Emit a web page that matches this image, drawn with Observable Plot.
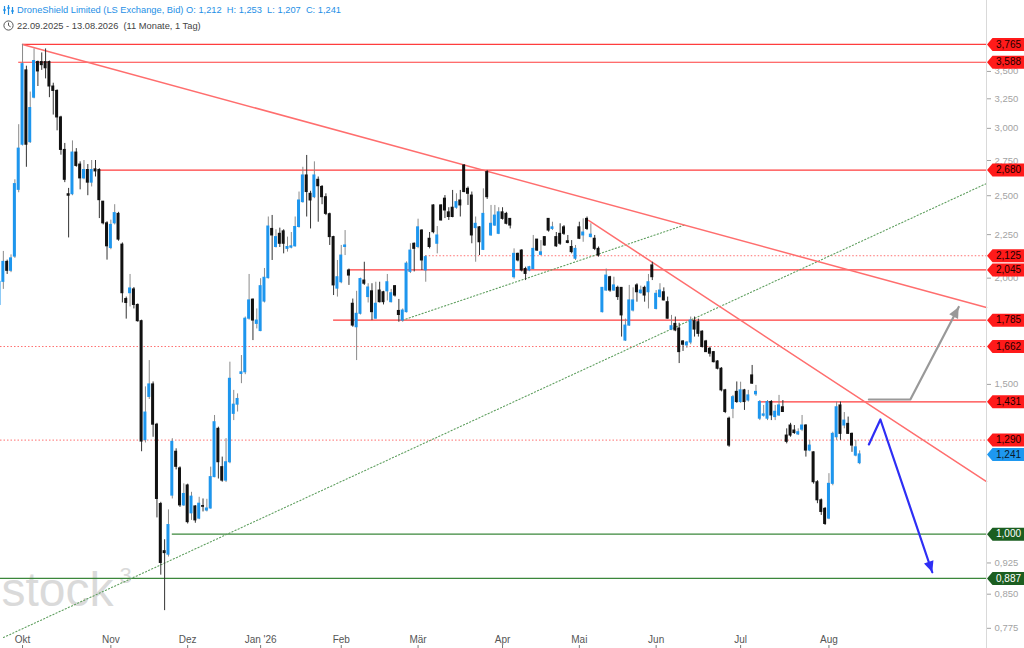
<!DOCTYPE html>
<html lang="de">
<head>
<meta charset="utf-8">
<title>DroneShield Limited (LS Exchange, Bid)</title>
<script src="https://cdn.jsdelivr.net/npm/d3@7"></script>
<script src="https://cdn.jsdelivr.net/npm/@observablehq/plot@0.6"></script>
<style>
html,body{margin:0;padding:0;background:#fff;}
#wrap{position:relative;width:1024px;height:648px;overflow:hidden;font-family:Arial,"Liberation Sans",Helvetica,sans-serif;}
#chart svg{display:block;}
.hl{position:absolute;left:17px;font-size:9.3px;white-space:pre;line-height:11px;}
#l1{top:5px;color:#1e8fe6;}
#l2{top:21px;color:#444;}
.ic{position:absolute;left:3px;}
</style>
</head>
<body>
<div id="wrap">
  <div id="chart"></div>
  <svg class="ic" style="top:5px" width="11" height="10" viewBox="0 0 11 10">
    <g stroke="#1e8fe6" stroke-width="1.2" fill="none">
      <line x1="1.5" y1="1" x2="1.5" y2="9"/><line x1="0" y1="5" x2="3" y2="5"/>
      <line x1="5.5" y1="0" x2="5.5" y2="10"/><line x1="4" y1="3" x2="7" y2="3"/>
      <line x1="9.5" y1="2" x2="9.5" y2="9"/><line x1="8" y1="6" x2="11" y2="6"/>
    </g>
  </svg>
  <div id="l1" class="hl"></div>
  <svg class="ic" style="top:20px" width="11" height="11" viewBox="0 0 11 11">
    <circle cx="5.5" cy="5.5" r="4.6" stroke="#555" stroke-width="1" fill="none"/>
    <path d="M5.5 2.6V5.5L7.6 6.8" stroke="#555" stroke-width="1" fill="none"/>
  </svg>
  <div id="l2" class="hl"></div>
</div>
<script>
// ---------- data ----------
const title = "DroneShield Limited (LS Exchange, Bid)";
const periodText = "22.09.2025 - 13.08.2026  (11 Monate, 1 Tag)";
const startDate = "2025-09-23";
const holidays = ["2025-12-24","2025-12-25","2025-12-26","2025-12-31","2026-01-01","2026-04-03","2026-04-06","2026-05-01"];
const monthNames = ["Jan","Feb","Mär","Apr","Mai","Jun","Jul","Aug","Sep","Okt","Nov","Dez"];

const opens = [
1.86,1.98,2.09,2.04,2.12,2.54,2.87,3.51,2.89,3.26,
3.59,3.59,3.59,3.59,3.36,3.32,3.09,2.83,2.51,2.51,
2.81,2.72,2.62,2.68,2.59,2.685,2.68,2.46,2.32,2.17,
2.32,2.38,2.19,1.89,1.92,1.94,1.86,1.78,1.29,1.45,
1.50,1.345,1.085,0.955,0.946,1.11,1.25,1.195,1.081,1.141,
1.058,1.078,1.043,1.079,1.066,1.072,1.167,1.33,1.199,1.156,
1.215,1.385,1.42,1.543,1.55,1.792,1.887,1.767,1.733,1.877,
2.0,2.285,2.176,2.255,2.27,2.165,2.172,2.18,2.297,2.457,
2.641,2.513,2.49,2.61,2.56,2.49,2.378,2.235,1.944,1.978,
2.176,2.042,1.866,1.751,1.816,1.987,1.90,1.93,1.792,1.934,
1.925,1.93,1.874,1.957,1.83,1.783,1.824,2.034,2.195,2.176,
2.275,2.042,2.225,2.435,2.195,2.435,2.48,2.39,2.42,2.42,
2.468,2.713,2.547,2.501,2.29,2.295,2.159,2.665,2.245,2.306,
2.255,2.39,2.38,2.348,2.005,2.136,2.155,2.05,2.042,2.05,
2.22,2.13,2.235,2.348,2.285,2.235,2.255,2.295,2.21,2.176,
2.108,2.295,2.245,2.348,2.235,2.225,2.165,1.824,1.934,2.005,
1.934,1.948,1.948,1.689,1.759,1.832,1.961,1.92,1.948,1.925,
2.07,1.84,1.90,1.925,1.874,1.74,1.767,1.745,1.685,1.667,
1.68,1.78,1.775,1.73,1.685,1.652,1.637,1.596,1.565,1.476,
1.367,1.404,1.47,1.43,1.476,1.436,1.537,1.46,1.367,1.378,
1.367,1.43,1.373,1.379,1.41,1.306,1.342,1.324,1.31,1.327,
1.342,1.254,1.248,1.151,1.096,1.071,1.043,1.146,1.30,1.417,
1.342,1.348,1.312,1.237,1.212];

const highs = [
2.00,2.15,2.10,2.13,2.61,3.03,3.765,3.55,3.31,3.72,
3.60,3.68,3.72,3.60,3.39,3.33,3.10,2.88,2.55,2.90,
2.84,2.74,2.75,2.72,2.75,2.75,2.69,2.46,2.33,2.34,
2.44,2.39,2.20,1.90,2.02,1.95,1.865,1.785,1.49,1.60,
1.51,1.35,1.09,0.985,1.068,1.295,1.26,1.20,1.146,1.145,
1.12,1.08,1.105,1.10,1.099,1.199,1.379,1.336,1.232,1.295,
1.593,1.476,1.462,1.622,1.80,2.02,1.89,1.84,1.997,2.053,
2.36,2.37,2.28,2.29,2.28,2.235,2.263,2.36,2.525,2.70,
2.788,2.53,2.74,2.63,2.57,2.513,2.385,2.24,2.098,2.185,
2.275,2.05,1.89,1.93,2.00,2.088,1.97,1.97,1.978,1.978,
1.93,2.02,1.94,1.96,1.888,1.84,2.09,2.195,2.20,2.346,
2.28,2.126,2.263,2.44,2.30,2.44,2.501,2.42,2.536,2.513,
2.536,2.72,2.56,2.525,2.36,2.30,2.547,2.677,2.435,2.435,
2.42,2.42,2.39,2.35,2.165,2.14,2.16,2.06,2.065,2.245,
2.22,2.214,2.235,2.35,2.327,2.263,2.317,2.306,2.245,2.214,
2.185,2.327,2.348,2.36,2.317,2.245,2.176,1.95,2.05,2.01,
2.005,1.957,1.95,1.79,1.961,1.948,1.97,1.957,1.957,2.02,
2.088,1.934,1.97,1.948,1.90,1.808,1.80,1.77,1.689,1.685,
1.80,1.80,1.79,1.735,1.69,1.66,1.64,1.60,1.57,1.48,
1.373,1.456,1.51,1.509,1.48,1.476,1.579,1.496,1.436,1.417,
1.436,1.436,1.417,1.456,1.436,1.33,1.35,1.342,1.33,1.379,
1.345,1.289,1.25,1.156,1.10,1.075,1.178,1.318,1.43,1.43,
1.39,1.373,1.315,1.289,1.253];

const lows = [
1.85,1.94,2.02,2.03,2.11,2.52,2.86,2.70,2.88,3.25,
3.36,3.51,3.43,3.26,3.11,2.98,2.79,2.59,2.23,2.50,
2.70,2.54,2.61,2.50,2.56,2.63,2.35,2.31,2.10,2.16,
2.31,2.21,1.87,1.79,1.85,1.84,1.775,1.25,1.28,1.44,
1.30,1.045,0.895,0.813,0.94,1.10,1.19,1.075,1.078,1.028,
1.038,1.03,1.04,1.062,1.062,1.07,1.165,1.161,1.151,1.15,
1.21,1.36,1.392,1.503,1.54,1.785,1.689,1.743,1.73,1.87,
1.995,2.098,2.17,2.173,2.136,2.146,2.165,2.175,2.29,2.45,
2.36,2.285,2.48,2.327,2.44,2.369,2.185,1.908,1.90,1.97,
2.126,1.961,1.751,1.60,1.81,1.961,1.87,1.783,1.79,1.87,
1.86,1.88,1.87,1.90,1.775,1.775,1.82,2.025,2.034,2.166,
2.042,1.978,2.165,2.255,2.136,2.335,2.35,2.338,2.355,2.41,
2.36,2.52,2.435,2.195,2.088,2.126,2.155,2.475,2.24,2.30,
2.25,2.34,2.31,2.285,1.995,2.09,2.034,1.987,2.035,2.045,
2.15,2.125,2.18,2.265,2.275,2.173,2.185,2.245,2.195,2.136,
2.098,2.22,2.204,2.275,2.23,2.155,2.117,1.82,1.93,1.925,
1.93,1.883,1.705,1.685,1.755,1.825,1.874,1.915,1.874,1.84,
1.987,1.835,1.895,1.88,1.79,1.735,1.73,1.587,1.64,1.654,
1.67,1.705,1.705,1.655,1.635,1.615,1.59,1.56,1.47,1.386,
1.265,1.367,1.425,1.425,1.398,1.43,1.50,1.452,1.36,1.373,
1.36,1.36,1.36,1.375,1.39,1.277,1.30,1.31,1.306,1.32,
1.232,1.25,1.145,1.086,1.052,1.024,1.04,1.14,1.289,1.289,
1.33,1.31,1.248,1.233,1.207];

const closes = [
1.98,2.09,2.04,2.11,2.58,2.84,3.57,2.87,3.17,3.60,
3.50,3.56,3.53,3.36,3.32,3.09,2.83,2.61,2.50,2.81,
2.71,2.62,2.68,2.59,2.68,2.67,2.47,2.32,2.18,2.31,
2.385,2.22,1.92,1.87,1.945,1.86,1.78,1.285,1.39,1.50,
1.345,1.10,0.925,0.95,1.025,1.284,1.20,1.081,1.115,1.033,
1.107,1.038,1.086,1.077,1.072,1.167,1.354,1.215,1.156,1.215,
1.523,1.42,1.442,1.55,1.792,1.883,1.783,1.783,1.957,2.002,
2.30,2.245,2.235,2.195,2.195,2.176,2.18,2.297,2.468,2.641,
2.525,2.468,2.641,2.565,2.49,2.38,2.235,1.961,2.005,2.126,
2.185,2.014,1.759,1.816,1.995,1.97,1.95,1.824,1.866,1.874,
1.874,1.978,1.92,1.908,1.81,1.832,2.08,2.155,2.165,2.295,
2.098,2.117,2.176,2.265,2.245,2.338,2.402,2.36,2.36,2.457,
2.435,2.525,2.513,2.245,2.317,2.204,2.38,2.49,2.317,2.369,
2.39,2.348,2.317,2.306,2.136,2.098,2.042,2.023,2.06,2.165,
2.155,2.145,2.185,2.275,2.295,2.18,2.195,2.255,2.20,2.146,
2.165,2.225,2.263,2.285,2.25,2.165,2.126,1.948,2.014,1.934,
1.961,1.90,1.808,1.759,1.883,1.883,1.925,1.934,1.908,1.978,
2.005,1.917,1.934,1.883,1.792,1.756,1.736,1.637,1.67,1.68,
1.783,1.74,1.72,1.66,1.637,1.63,1.593,1.565,1.476,1.392,
1.271,1.449,1.43,1.476,1.43,1.456,1.503,1.47,1.43,1.383,
1.43,1.379,1.393,1.417,1.392,1.284,1.306,1.315,1.318,1.342,
1.254,1.271,1.151,1.096,1.062,1.028,1.146,1.312,1.41,1.312,
1.36,1.312,1.271,1.265,1.241];

// horizontal levels (price), their kind, and the trading-day index where each starts (null = left edge)
const levelValues = [3.765, 3.588, 2.680, 2.125, 2.045, 1.785, 1.662, 1.431, 1.290, 1.000, 0.887];
const levelKinds  = ["res","res","res","dot","res","res","dot","res","dot","sup","sup"];
const levelFrom   = [6, 5, 26, 111, 91, 87, null, 198, null, 45, null];

// trend lines (trading-day index, price)
const trendA_i = [6, 257.03],    trendA_v = [3.765, 1.847];
const trendB_i = [153.4, 257.03], trendB_v = [2.338, 1.153];
const upA_i = [1.04, 257.03],     upA_v = [0.756, 2.584];
const upB_i = [105, 178.6],       upB_v = [1.785, 2.311];

// scenario arrows (trading-day index, price)
const greyArrow_i = [226.4, 237.2, 249.8], greyArrow_v = [1.440, 1.440, 1.850];
const blueArrow_i = [226.4, 229.4, 242.9], blueArrow_v = [1.275, 1.364, 0.902];

// visible right-axis tick labels
const yTickValues = [0.775, 0.85, 0.925, 1.5, 2.0, 2.25, 2.5, 2.75, 3.0, 3.25, 3.5];

// ---------- helpers ----------
const fmt3 = v => v.toFixed(3).replace(".", ",");
const W = 1024, H = 648, MR = 38;
const xDomain = [0.26, 257.03];
const yDomain = [0.7338, 4.241];
const BLUE = "#1d96ee";

const n = closes.length;
const last = n - 1;
document.getElementById("l1").textContent =
  `${title} O: ${fmt3(opens[last])}  H: ${fmt3(highs[last])}  L: ${fmt3(lows[last])}  C: ${fmt3(closes[last])}`;
document.getElementById("l2").textContent = periodText;

// trading calendar -> month ticks
const dates = [];
for (let d = new Date(startDate + "T12:00:00Z"); dates.length < n; d.setUTCDate(d.getUTCDate() + 1)) {
  const wd = d.getUTCDay(), s = d.toISOString().slice(0, 10);
  if (wd !== 0 && wd !== 6 && !holidays.includes(s)) dates.push(new Date(d));
}
const monthTicks = [];
dates.forEach((d, i) => {
  if (i > 0 && d.getUTCMonth() !== dates[i - 1].getUTCMonth()) {
    const m = d.getUTCMonth();
    monthTicks.push({i, label: monthNames[m] + (m === 0 ? " '" + String(d.getUTCFullYear()).slice(2) : "")});
  }
});

const candles = closes.map((c, i) => ({i, o: opens[i], h: highs[i], l: lows[i], c, up: c >= opens[i]}));
const pts = (I, V) => I.map((i, k) => ({i, v: V[k]}));

const levels = levelValues.map((v, k) => ({v, kind: levelKinds[k], from: levelFrom[k] == null ? xDomain[0] : levelFrom[k]}));
const tags = levels.map(d => ({v: d.v, bg: d.kind === "sup" ? "#1b5e20" : "#ff1a1a", fg: d.kind === "sup" ? "#ffffff" : "#1a0000"}))
  .concat([{v: closes[last], bg: "#1e98f0", fg: "#0a1a2a"}]);

const xScale = Plot.scale({x: {type: "linear", domain: xDomain, range: [0, W - MR]}});
const yScale = Plot.scale({y: {type: "log", domain: yDomain, range: [H, 0]}});
function headAngle(I, V) {
  const k = I.length - 1;
  const dx = xScale.apply(I[k]) - xScale.apply(I[k - 1]);
  const dy = yScale.apply(V[k]) - yScale.apply(V[k - 1]);
  return Math.atan2(dx, -dy) * 180 / Math.PI;
}
const headSym = {draw(ctx) { ctx.moveTo(0, 0); ctx.lineTo(5, 11); ctx.lineTo(-5, 11); ctx.closePath(); }};
const tagSym = {draw(ctx) { ctx.moveTo(0.5, 0); ctx.lineTo(6, -6.5); ctx.lineTo(38, -6.5); ctx.lineTo(38, 6.5); ctx.lineTo(6, 6.5); ctx.closePath(); }};
const xEnd = () => xDomain[1];

const chart = Plot.plot({
  width: W, height: H,
  marginLeft: 0, marginRight: MR, marginTop: 0, marginBottom: 0,
  style: {fontFamily: "Arial, 'Liberation Sans', Helvetica, sans-serif", background: "#fff", overflow: "visible"},
  x: {type: "linear", domain: xDomain, axis: null},
  y: {type: "log", domain: yDomain, axis: null},
  color: {type: "identity"},
  marks: [
    // watermark
    Plot.text(["stock"], {text: d => d, frameAnchor: "bottom-left", lineAnchor: "bottom", textAnchor: "start", dx: 1, dy: -43, fontSize: 48, fill: "#dadada"}),
    Plot.text(["3"], {text: d => d, frameAnchor: "bottom-left", lineAnchor: "bottom", textAnchor: "start", dx: 119, dy: -66, fontSize: 22, fill: "#dadada"}),
    // horizontal levels
    Plot.ruleY(levels.filter(d => d.kind === "dot"), {y: "v", x1: "from", x2: xEnd, stroke: "#ff7070", strokeWidth: 1, strokeDasharray: "1.5,2"}),
    Plot.ruleY(levels.filter(d => d.kind === "res"), {y: "v", x1: "from", x2: xEnd, stroke: "#ff3d3d", strokeWidth: 1.2}),
    Plot.ruleY(levels.filter(d => d.kind === "sup"), {y: "v", x1: "from", x2: xEnd, stroke: "#3b873b", strokeWidth: 1.2}),
    // trend lines
    Plot.line(pts(upA_i, upA_v), {x: "i", y: "v", stroke: "#5f9f5f", strokeWidth: 1.1, strokeDasharray: "1.2,2.2"}),
    Plot.line(pts(upB_i, upB_v), {x: "i", y: "v", stroke: "#5f9f5f", strokeWidth: 1.1, strokeDasharray: "1.2,2.2"}),
    Plot.line(pts(trendA_i, trendA_v), {x: "i", y: "v", stroke: "#ff6e6e", strokeWidth: 1.5}),
    Plot.line(pts(trendB_i, trendB_v), {x: "i", y: "v", stroke: "#ff6e6e", strokeWidth: 1.5}),
    // candles
    Plot.ruleX(candles, {x: "i", y1: "l", y2: "h", stroke: d => d.up ? "#8a8a8a" : "#333333", strokeWidth: 1}),
    Plot.rect(candles, {x1: d => d.i - 0.39, x2: d => d.i + 0.39, y1: d => Math.min(d.o, d.c), y2: d => Math.max(d.o, d.c),
      fill: d => d.up ? BLUE : "#111111", insetTop: -0.5, insetBottom: -0.5}),
    // scenario arrows
    Plot.line(pts(greyArrow_i, greyArrow_v), {x: "i", y: "v", stroke: "#999999", strokeWidth: 2.2}),
    Plot.dot(pts(greyArrow_i, greyArrow_v).slice(-1), {x: "i", y: "v", symbol: headSym, rotate: headAngle(greyArrow_i, greyArrow_v), fill: "#999999", stroke: "none"}),
    Plot.line(pts(blueArrow_i, blueArrow_v), {x: "i", y: "v", stroke: "#2e2ef5", strokeWidth: 2.2}),
    Plot.dot(pts(blueArrow_i, blueArrow_v).slice(-1), {x: "i", y: "v", symbol: headSym, rotate: headAngle(blueArrow_i, blueArrow_v), fill: "#2e2ef5", stroke: "none"}),
    // right axis
    Plot.ruleX([xDomain[1]], {stroke: "#d9d9d9"}),
    Plot.axisY(yTickValues, {anchor: "right", tickFormat: fmt3, tickSize: 4, tickPadding: 4, color: "#a3a3a3", fontSize: 9.5, label: null}),
    // price tags
    Plot.dot(tags, {x: xEnd, y: "v", symbol: tagSym, fill: "bg", stroke: "none"}),
    Plot.text(tags, {x: xEnd, y: "v", text: d => fmt3(d.v), dx: 22, fill: "fg", fontSize: 10, textAnchor: "middle"}),
    // month axis
    Plot.text(monthTicks, {x: "i", text: "label", frameAnchor: "bottom", lineAnchor: "bottom", dy: -6, fontSize: 10, fill: "#555"}),
    Plot.ruleX(monthTicks, {x: "i", insetTop: 645, stroke: "#777"})
  ]
});
document.getElementById("chart").appendChild(chart);
</script>
</body>
</html>
